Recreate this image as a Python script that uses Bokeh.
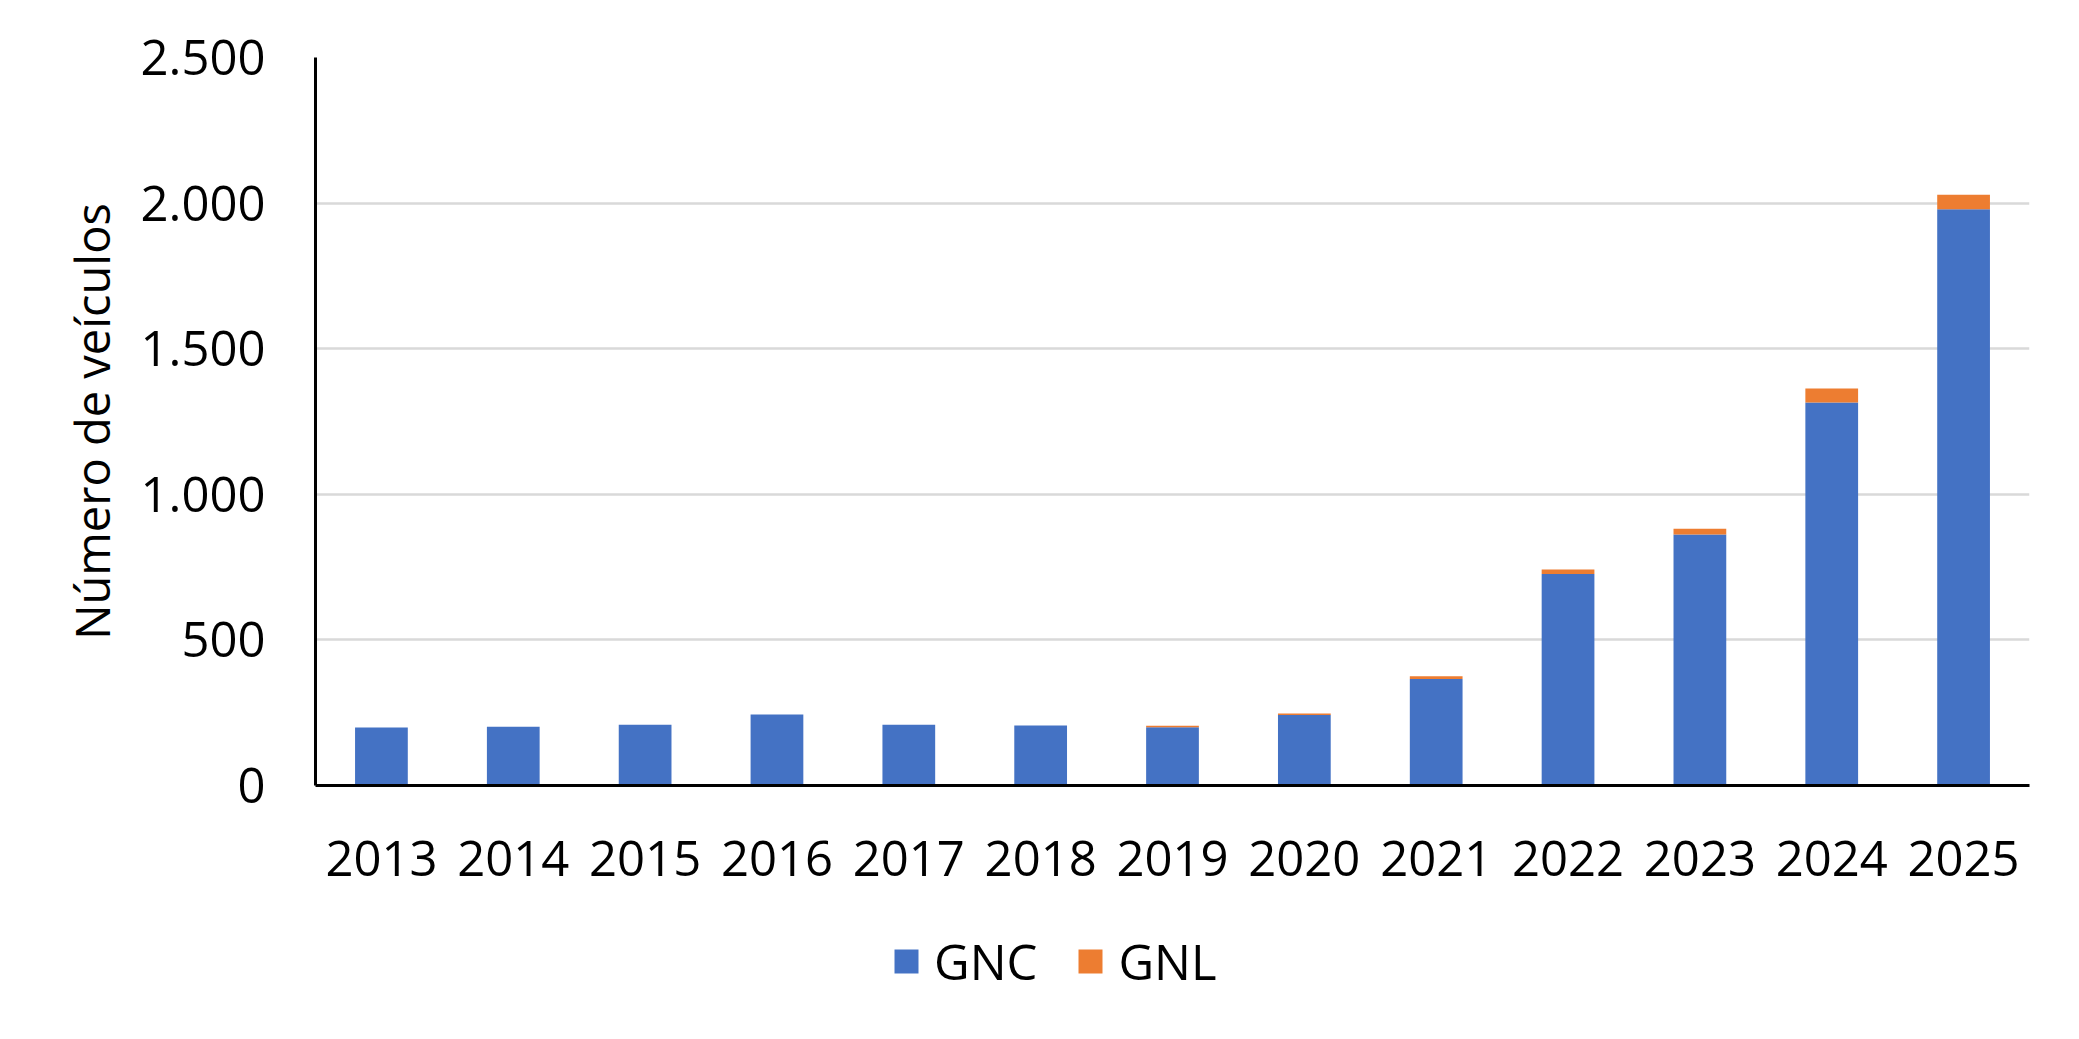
from bokeh.plotting import figure
from bokeh.layouts import column
from bokeh.models import Range1d, FactorRange, FixedTicker, Legend, LegendItem, ColumnDataSource
from bokeh.embed import file_html
from bokeh.resources import INLINE

years = ["2013", "2014", "2015", "2016", "2017", "2018", "2019",
         "2020", "2021", "2022", "2023", "2024", "2025"]
gnc = [199, 202, 209, 244, 209, 206, 200, 242, 366, 726, 862, 1315, 1979]
gnl = [0, 0, 0, 0, 0, 0, 5, 5, 9, 16, 20, 48, 50]
series = ["GNC", "GNL"]
colors = ["#4472C4", "#ED7D31"]
y_ticks = [0, 500, 1000, 1500, 2000, 2500]
y_tick_labels = ["0", "500", "1.000", "1.500", "2.000", "2.500"]
y_title = "Número de veículos"

FONT = "Open Sans"
W = 2063
H_MAIN = 918
H_LEG = 105
LEFT = 315
RIGHT = 34
TOP = 57
FRAME_BOTTOM = 785

source = ColumnDataSource(data=dict(year=years, GNC=gnc, GNL=gnl))

p = figure(width=W, height=H_MAIN, output_backend="svg", toolbar_location=None,
           x_range=FactorRange(*years, range_padding=0),
           y_range=Range1d(0, 2500),
           min_border_left=LEFT, min_border_right=RIGHT,
           min_border_top=TOP, min_border_bottom=H_MAIN - FRAME_BOTTOM)

p.vbar_stack(series, x="year", width=0.4, color=colors, line_color=None, source=source)

p.background_fill_color = "white"
p.border_fill_color = "white"
p.outline_line_color = None

# grid
p.xgrid.grid_line_color = None
p.ygrid.grid_line_color = "#d9d9d9"
p.ygrid.grid_line_width = 2.5
p.ygrid.ticker = FixedTicker(ticks=y_ticks)

# y axis
p.yaxis.ticker = FixedTicker(ticks=y_ticks)
p.yaxis.major_label_overrides = {t: l for t, l in zip(y_ticks, y_tick_labels)}
p.yaxis.axis_label = y_title
p.yaxis.axis_label_text_font = FONT
p.yaxis.axis_label_text_font_size = "47px"
p.yaxis.axis_label_text_font_style = "normal"
p.yaxis.axis_label_text_color = "black"
p.yaxis.axis_label_standoff = 14
p.yaxis.major_label_text_font = FONT
p.yaxis.major_label_text_font_size = "49px"
p.yaxis.major_label_text_color = "black"
p.yaxis.major_label_standoff = 44
p.yaxis.major_tick_line_color = None
p.yaxis.minor_tick_line_color = None
p.yaxis.axis_line_color = "black"
p.yaxis.axis_line_width = 3

# x axis
p.xaxis.major_label_text_font = FONT
p.xaxis.major_label_text_font_size = "49px"
p.xaxis.major_label_text_color = "black"
p.xaxis.major_label_standoff = 49
p.xaxis.major_tick_line_color = None
p.xaxis.minor_tick_line_color = None
p.xaxis.axis_line_color = "black"
p.xaxis.axis_line_width = 3

# legend strip below the chart
q = figure(width=W, height=H_LEG, output_backend="svg", toolbar_location=None,
           x_axis_type=None, y_axis_type=None,
           x_range=Range1d(0, 1), y_range=Range1d(0, 1),
           min_border_left=LEFT, min_border_right=RIGHT, min_border_top=0, min_border_bottom=0)
q.grid.grid_line_color = None
q.outline_line_color = None
q.background_fill_color = "white"
q.border_fill_color = "white"
dummy = []
for c in colors:
    dummy.append(q.vbar(x=[0.5], top=[0], bottom=[0], width=0.0, color=c, line_color=None))

legend = Legend(items=[LegendItem(label=s, renderers=[r]) for s, r in zip(series, dummy)],
                orientation="horizontal", location=(576, 29))
legend.glyph_width = 30
legend.glyph_height = 30
legend.label_standoff = 13
legend.spacing = 38
legend.padding = 0
legend.margin = 0
legend.border_line_color = None
legend.background_fill_alpha = 0
legend.label_text_font = FONT
legend.label_text_font_size = "49px"
legend.label_text_color = "black"
q.add_layout(legend, "center")

layout = column(p, q, spacing=0)

open("out.html", "w").write(file_html(layout, INLINE))
